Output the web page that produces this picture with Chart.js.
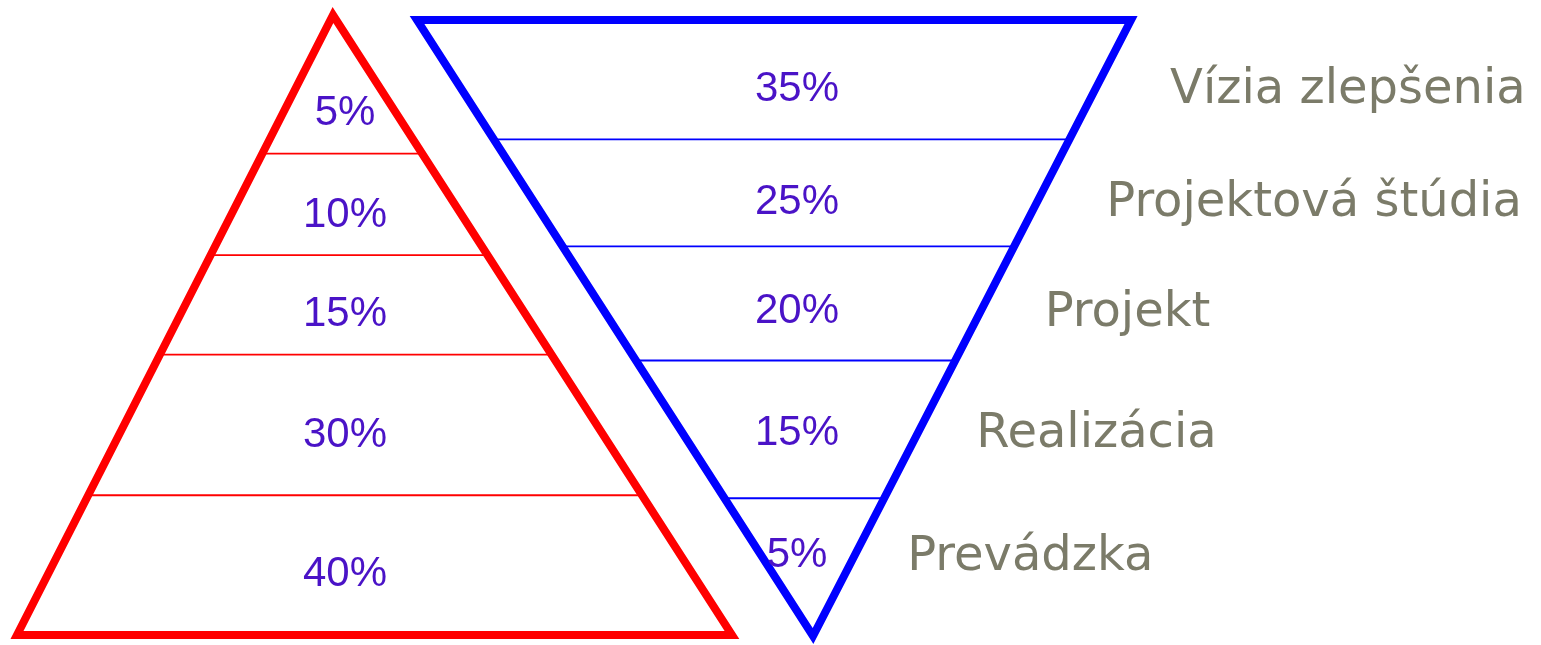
<!DOCTYPE html>
<html>
<head>
<meta charset="utf-8">
<script src="https://cdn.jsdelivr.net/npm/chart.js@4/dist/chart.umd.min.js"></script>
<style>
  html, body { margin: 0; padding: 0; background: #fff; }
  #wrap { width: 1541px; height: 645px; position: relative; }
</style>
</head>
<body>
<div id="wrap"><canvas id="pyramidChart"></canvas></div>
<script>
// data, listed top to bottom
const stages = ['Vízia zlepšenia', 'Projektová štúdia', 'Projekt', 'Realizácia', 'Prevádzka'];
const pyramidShares = [5, 10, 15, 30, 40];
const funnelShares = [35, 25, 20, 15, 5];

// triangle frames (chart units = px of the 1541x645 canvas)
const pyramid = { apex: { x: 333, y: 15 }, baseY: 635, baseL: 17, baseR: 732, labelX: 345, labelBias: 3, color: '#ff0000' };
const funnel = { apex: { x: 813, y: 636 }, baseY: 20, baseL: 417, baseR: 1131, labelX: 797, labelBias: 8, color: '#0000ff' };

const pctColor = '#4a13c7';
const stageColor = '#7b7b69';
const stageGap = { top: 76, bottom: 47 };

function edgeX(tri, y, side) {
    let t = (y - tri.apex.y) / (tri.baseY - tri.apex.y);
    let bx = side === 'L' ? tri.baseL : tri.baseR;
    return tri.apex.x + t * (bx - tri.apex.x);
}

// band boundaries by area: depth fraction from the apex = sqrt(cumulative share)
function bands(tri, sharesFromApex) {
    let total = sharesFromApex.reduce((a, b) => a + b, 0);
    let cum = 0, prev = 0, out = [];
    sharesFromApex.forEach(s => {
        cum += s;
        let t = Math.sqrt(cum / total);
        let tc = (2 / 3) * (t ** 3 - prev ** 3) / (t ** 2 - prev ** 2);
        out.push({
            share: s,
            edgeY: tri.apex.y + t * (tri.baseY - tri.apex.y),
            labelY: tri.apex.y + tc * (tri.baseY - tri.apex.y) + tri.labelBias
        });
        prev = t;
    });
    return out;
}

const pyramidBands = bands(pyramid, pyramidShares);
const funnelBands = bands(funnel, funnelShares.slice().reverse()).reverse();

function outline(tri) {
    let midX = (tri.baseL + tri.baseR) / 2;
    return [
        { x: midX, y: tri.baseY },
        { x: tri.baseR, y: tri.baseY },
        { x: tri.apex.x, y: tri.apex.y },
        { x: tri.baseL, y: tri.baseY },
        { x: midX, y: tri.baseY }
    ];
}

function dividers(tri, list) {
    return list.filter(b => Math.abs(b.edgeY - tri.baseY) > 1).map(b => ({
        type: 'line',
        data: [{ x: edgeX(tri, b.edgeY, 'L'), y: b.edgeY }, { x: edgeX(tri, b.edgeY, 'R'), y: b.edgeY }],
        borderColor: tri.color,
        borderWidth: 1.8,
        pointRadius: 0,
        showLine: true,
        clip: false
    }));
}

function outlineSet(tri) {
    return {
        type: 'line',
        data: outline(tri),
        borderColor: tri.color,
        borderWidth: 8,
        borderJoinStyle: 'miter',
        pointRadius: 0,
        showLine: true,
        tension: 0,
        clip: false
    };
}

const labelPlugin = {
    id: 'bandLabels',
    afterDatasetsDraw(chart) {
        const { ctx, scales: { x, y } } = chart;
        ctx.save();
        ctx.textAlign = 'center';
        ctx.textBaseline = 'alphabetic';
        ctx.fillStyle = pctColor;
        ctx.font = '42px "Liberation Sans", Arial, sans-serif';
        pyramidBands.forEach(b => {
            ctx.fillText(b.share + '%', x.getPixelForValue(pyramid.labelX), y.getPixelForValue(b.labelY) + 42 * 0.358);
        });
        funnelBands.forEach(b => {
            ctx.fillText(b.share + '%', x.getPixelForValue(funnel.labelX), y.getPixelForValue(b.labelY) + 42 * 0.358);
        });
        ctx.textAlign = 'left';
        ctx.fillStyle = stageColor;
        ctx.font = '48px "DejaVu Sans", sans-serif';
        stages.forEach((s, i) => {
            let ly = funnelBands[i].labelY;
            let t = (ly - funnel.baseY) / (funnel.apex.y - funnel.baseY);
            let gap = stageGap.top + (stageGap.bottom - stageGap.top) * t;
            ctx.fillText(s, x.getPixelForValue(edgeX(funnel, ly, 'R') + gap), y.getPixelForValue(ly) + 48 * 0.365);
        });
        ctx.restore();
    }
};

new Chart(document.getElementById('pyramidChart'), {
    type: 'scatter',
    data: {
        datasets: [
            outlineSet(pyramid),
            outlineSet(funnel),
            ...dividers(pyramid, pyramidBands),
            ...dividers(funnel, funnelBands)
        ]
    },
    options: {
        responsive: true,
        maintainAspectRatio: false,
        animation: false,
        layout: { padding: 0 },
        plugins: { legend: { display: false }, tooltip: { enabled: false } },
        scales: {
            x: { type: 'linear', display: false, min: 0, max: 1541 },
            y: { type: 'linear', display: false, min: 0, max: 645, reverse: true }
        }
    },
    plugins: [labelPlugin]
});
</script>
</body>
</html>
